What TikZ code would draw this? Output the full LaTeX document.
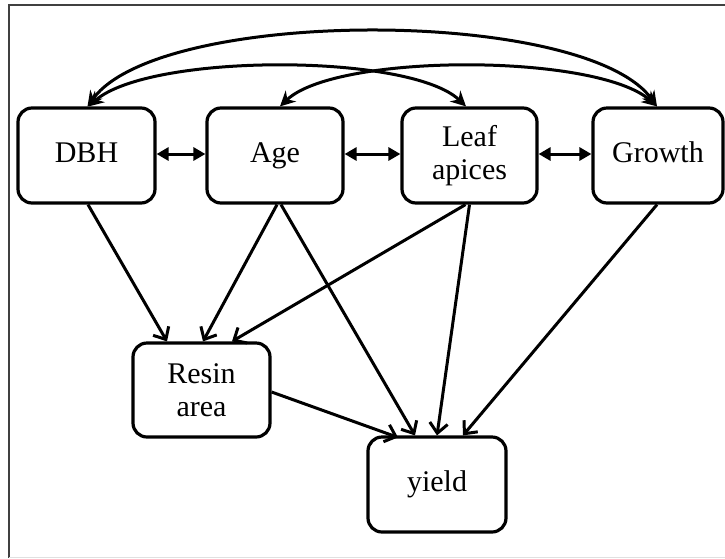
\documentclass[tikz,border=0pt]{standalone}
\usepackage{fontspec}
\setmainfont{Liberation Serif}
\usetikzlibrary{arrows.meta}
\begin{document}
\begin{tikzpicture}[x=1pt,y=-1pt,
  box/.style={draw, line width=3.2pt, rounded corners=14pt, minimum width=137pt, minimum height=95pt, align=center, inner sep=0pt, font=\fontsize{30}{33}\selectfont},
  oneline/.style={text height=20pt, text depth=6pt},
  arcarrow/.style={line width=3pt, {Stealth[length=15pt,width=15pt]}-{Stealth[length=15pt,width=15pt]}},
  biarrow/.style={line width=3pt, {Triangle[length=12pt,width=13pt]}-{Triangle[length=12pt,width=13pt]}},
  onearrow/.style={line width=3pt, -{Straight Barb[length=10pt,width=18pt,line width=3pt]}}
]
\useasboundingbox (0,0) rectangle (725,558);
\fill[white] (0,0) rectangle (725,558);
% frame
\draw[line width=1.6pt, black!75] (9,558) -- (9,5) -- (725,5);
\draw[line width=1pt, black!12] (9,557) -- (725,557);

% nodes
\node[box, oneline] (dbh) at (86.5,155.5) {DBH};
\node[box, oneline, minimum width=136pt] (age) at (275,155.5) {Age};
\node[box, minimum width=135pt] (leaf) at (469.5,155.5) {Leaf\\apices};
\node[box, oneline, minimum width=130pt] (growth) at (658,155.5) {Growth};
\node[box, minimum height=94pt] (resin) at (201.5,390) {Resin\\area};
\node[box, oneline, minimum width=138pt] (yield) at (437,484.5) {yield};

% top arcs
\draw[arcarrow] ([xshift=1pt]dbh.north) .. controls (160,7) and (585,7) .. ([xshift=-1pt]growth.north);
\draw[arcarrow] ([xshift=2pt]dbh.north) .. controls (150,53) and (410,53) .. ([xshift=-3.5pt]leaf.north);
\draw[arcarrow] ([xshift=5pt]age.north) .. controls (336,53) and (597,53) .. ([xshift=-1pt]growth.north);

% horizontal double arrows
\draw[biarrow] (dbh.east |- 0,154) -- (age.west |- 0,154);
\draw[biarrow] (age.east |- 0,154) -- (leaf.west |- 0,154);
\draw[biarrow] (leaf.east |- 0,154) -- (growth.west |- 0,154);

% lower arrows
\draw[onearrow] ([xshift=1.5pt]dbh.south) -- ([xshift=-34.5pt]resin.north);
\draw[onearrow] ([xshift=2pt]age.south) -- ([xshift=1.5pt]resin.north);
\draw[onearrow] ([xshift=6pt]age.south) -- ([xshift=-22pt]yield.north);
\draw[onearrow] ([xshift=-4pt]leaf.south) -- ([xshift=30.5pt]resin.north);
\draw[onearrow] ([xshift=0pt]leaf.south) -- ([xshift=0pt]yield.north);
\draw[onearrow] ([xshift=-1pt]growth.south) -- ([xshift=26pt]yield.north);
\draw[onearrow] ([yshift=-2pt]resin.east) -- ([xshift=-39pt,yshift=-2pt]yield.north);
\end{tikzpicture}
\end{document}
